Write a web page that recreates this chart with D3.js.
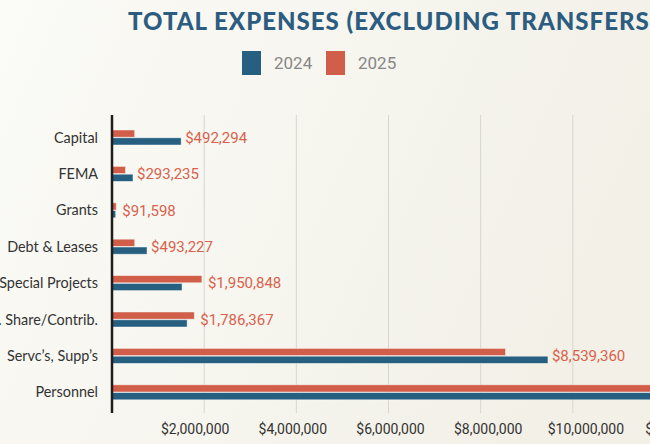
<!DOCTYPE html>
<html>
<head>
<meta charset="utf-8">
<script src="https://cdn.jsdelivr.net/npm/d3@7"></script>
<style>
  html, body { margin: 0; padding: 0; overflow: hidden; }
  body { width: 650px; height: 444px; }
</style>
</head>
<body>
<div id="chart"></div>
<script>
const categories = ["Capital", "FEMA", "Grants", "Debt & Leases", "Special Projects",
    "Govt. Share/Contrib.", "Servc\u2019s, Supp\u2019s", "Personnel"];
const values2024 = [1500000, 455000, 80000, 760000, 1520000, 1630000, 9460000, 12900000];
const values2025 = [492294, 293235, 91598, 493227, 1950848, 1786367, 8539360, 13400000];
const tickValues = [2000000, 4000000, 6000000, 8000000, 10000000, 12000000];
const seriesNames = ["2024", "2025"];

const W = 650, H = 444;
const blue = "#275f81", red = "#d15e49";

const svg = d3.select("#chart").append("svg")
    .attr("width", W)
    .attr("height", H);

// background
const defs = svg.append("defs");
const grad = defs.append("linearGradient").attr("id", "bg").attr("x1", "0").attr("x2", "1").attr("y1", "0").attr("y2", "0.3");
grad.append("stop").attr("offset", "0").attr("stop-color", "#fbfbf7");
grad.append("stop").attr("offset", "1").attr("stop-color", "#f2f0e7");
svg.append("rect").attr("width", W).attr("height", H).attr("fill", "url(#bg)");

// title + legend
svg.append("text")
    .attr("x", 128).attr("y", 30)
    .attr("font-family", "Lato")
    .attr("font-weight", 900)
    .attr("font-size", "24px")
    .attr("letter-spacing", "1px")
    .attr("fill", "#2c5d80")
    .text("TOTAL EXPENSES (EXCLUDING TRANSFERS)");

const legend = svg.append("g").attr("transform", "translate(242, 51)");
seriesNames.forEach((name, i) => {
    const g = legend.append("g").attr("transform", `translate(${i * 84}, 0)`);
    g.append("rect").attr("width", 19).attr("height", 24).attr("fill", i === 0 ? blue : red);
    g.append("text")
        .attr("x", 32).attr("y", 18)
        .attr("font-family", "Roboto")
        .attr("font-size", "17px")
        .attr("fill", "#878787")
        .text(name);
});

// scales
const x = d3.scaleLinear().domain([0, 12000000]).range([112, 665]);
const xLabels = d3.scaleLinear().domain([0, 12000000]).range([97, 683]);
const y = d3.scaleBand().domain(categories).range([119.3, 410.5]);
const ySub = d3.scaleBand().domain(["2025", "2024"])
    .range([y.bandwidth() / 2 - 7.5, y.bandwidth() / 2 + 7.5])
    .paddingInner(0.08);

// gridlines
svg.append("g")
    .selectAll("line")
    .data(tickValues)
    .join("line")
    .attr("x1", d => x(d)).attr("x2", d => x(d))
    .attr("y1", 115).attr("y2", 413)
    .attr("stroke", "#d6d5d0")
    .attr("stroke-width", 1);

// bottom tick labels
const xAxis = svg.append("g")
    .attr("transform", "translate(0, 421)")
    .call(d3.axisBottom(xLabels).tickValues(tickValues).tickSize(0).tickFormat(d => "$" + d3.format(",")(d)));
xAxis.select(".domain").remove();
xAxis.selectAll("text")
    .attr("font-family", "Roboto")
    .attr("font-size", "14px")
    .attr("fill", "#333");

// bars
const rows = svg.append("g")
    .selectAll("g")
    .data(categories.map((c, i) => ({ cat: c, v2024: values2024[i], v2025: values2025[i] })))
    .join("g")
    .attr("transform", d => `translate(0, ${y(d.cat)})`);

rows.append("rect")
    .attr("x", x(0))
    .attr("y", ySub("2025"))
    .attr("width", d => x(d.v2025) - x(0))
    .attr("height", ySub.bandwidth())
    .attr("fill", red)
    .attr("stroke", "rgba(255,255,255,0.55)")
    .attr("stroke-width", 0.8);

rows.append("rect")
    .attr("x", x(0))
    .attr("y", ySub("2024"))
    .attr("width", d => x(d.v2024) - x(0))
    .attr("height", ySub.bandwidth())
    .attr("fill", blue)
    .attr("stroke", "rgba(255,255,255,0.55)")
    .attr("stroke-width", 0.8);

// value labels (2025)
rows.append("text")
    .attr("x", d => Math.max(x(d.v2025) + 6, x(d.v2024) + 4))
    .attr("y", y.bandwidth() / 2)
    .attr("dy", "0.35em")
    .attr("font-family", "Roboto")
    .attr("font-size", "15px")
    .attr("fill", "#d9624d")
    .text(d => "$" + d3.format(",")(d.v2025));

// category labels
rows.append("text")
    .attr("x", 98)
    .attr("y", y.bandwidth() / 2)
    .attr("dy", "0.35em")
    .attr("text-anchor", "end")
    .attr("font-family", "Lato")
    .attr("font-size", "14.4px")
    .attr("fill", "#333")
    .text(d => d.cat);

// axis line
svg.append("line")
    .attr("x1", x(0)).attr("x2", x(0))
    .attr("y1", 115).attr("y2", 413)
    .attr("stroke", "#1e1e1e")
    .attr("stroke-width", 2.5);
</script>
</body>
</html>
